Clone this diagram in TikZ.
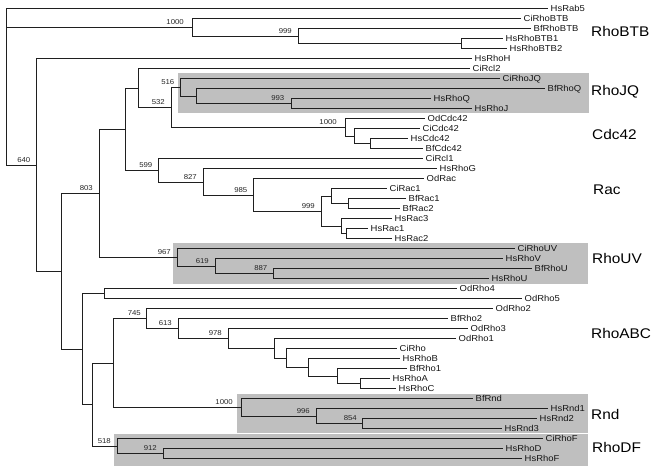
\documentclass[tikz,border=0pt]{standalone}
\usepackage{fontspec}
\setmainfont{Liberation Sans}[FakeStretch=1.1]
\usetikzlibrary{calc}
\begin{document}
\begin{tikzpicture}[x=1pt,y=-1pt,
  br/.style={draw=black!88, line width=1pt},
  leaf/.style={anchor=west, inner xsep=2.5pt, inner ysep=0pt, text height=6pt, text depth=0pt, font=\fontsize{8.6}{9}\selectfont, text=black!92},
  boot/.style={anchor=base east, inner sep=0pt, font=\fontsize{7.1}{8}\selectfont, text=black!85},
  grp/.style={anchor=west, inner sep=0pt, text height=10pt, text depth=0pt, font=\fontsize{14}{16}\selectfont, text=black},
  clade/.style={fill=black!25}]
\useasboundingbox (0,0) rectangle (657,473);
% clade boxes
\fill[clade] (178,73) rectangle (589,113);
\fill[clade] (173,243) rectangle (588,284);
\fill[clade] (237,394) rectangle (588,433);
\fill[clade] (114,434.5) rectangle (588,466);
% leaves
\node[leaf] (HsRab5) at (548,9) {HsRab5};
\node[leaf] (CiRhoBTB) at (521,19) {CiRhoBTB};
\node[leaf] (BfRhoBTB) at (531,29) {BfRhoBTB};
\node[leaf] (HsRhoBTB1) at (503,39) {HsRhoBTB1};
\node[leaf] (HsRhoBTB2) at (507,49) {HsRhoBTB2};
\node[leaf] (HsRhoH) at (472,59) {HsRhoH};
\node[leaf] (CiRcl2) at (470,69) {CiRcl2};
\node[leaf] (CiRhoJQ) at (500,79) {CiRhoJQ};
\node[leaf] (BfRhoQ) at (545,89) {BfRhoQ};
\node[leaf] (HsRhoQ) at (431,99) {HsRhoQ};
\node[leaf] (HsRhoJ) at (472,109) {HsRhoJ};
\node[leaf] (OdCdc42) at (425,119) {OdCdc42};
\node[leaf] (CiCdc42) at (420,129) {CiCdc42};
\node[leaf] (HsCdc42) at (408,139) {HsCdc42};
\node[leaf] (BfCdc42) at (423,149) {BfCdc42};
\node[leaf] (CiRcl1) at (423,159) {CiRcl1};
\node[leaf] (HsRhoG) at (437,169) {HsRhoG};
\node[leaf] (OdRac) at (424,179) {OdRac};
\node[leaf] (CiRac1) at (387,189) {CiRac1};
\node[leaf] (BfRac1) at (406,199) {BfRac1};
\node[leaf] (BfRac2) at (400,209) {BfRac2};
\node[leaf] (HsRac3) at (392,219) {HsRac3};
\node[leaf] (HsRac1) at (368,229) {HsRac1};
\node[leaf] (HsRac2) at (392,239) {HsRac2};
\node[leaf] (CiRhoUV) at (515,249) {CiRhoUV};
\node[leaf] (HsRhoV) at (503,259) {HsRhoV};
\node[leaf] (BfRhoU) at (532,269) {BfRhoU};
\node[leaf] (HsRhoU) at (489,279) {HsRhoU};
\node[leaf] (OdRho4) at (457,289) {OdRho4};
\node[leaf] (OdRho5) at (522,299) {OdRho5};
\node[leaf] (OdRho2) at (493,309) {OdRho2};
\node[leaf] (BfRho2) at (448,319) {BfRho2};
\node[leaf] (OdRho3) at (468,329) {OdRho3};
\node[leaf] (OdRho1) at (456,339) {OdRho1};
\node[leaf] (CiRho) at (397,349) {CiRho};
\node[leaf] (HsRhoB) at (400,359) {HsRhoB};
\node[leaf] (BfRho1) at (407,369) {BfRho1};
\node[leaf] (HsRhoA) at (390,379) {HsRhoA};
\node[leaf] (HsRhoC) at (396,389) {HsRhoC};
\node[leaf] (BfRnd) at (473,399) {BfRnd};
\node[leaf] (HsRnd1) at (548,409) {HsRnd1};
\node[leaf] (HsRnd2) at (537,419) {HsRnd2};
\node[leaf] (HsRnd3) at (502,429) {HsRnd3};
\node[leaf] (CiRhoF) at (543,439) {CiRhoF};
\node[leaf] (HsRhoD) at (503,449) {HsRhoD};
\node[leaf] (HsRhoF) at (522,459) {HsRhoF};
% internal nodes
\coordinate (nBTB12) at (461,44);
\coordinate (nB999) at (298,36.5);
\coordinate (nBTB) at (192,27.75);
\coordinate (nQJ) at (291,104);
\coordinate (nQ) at (196,96.5);
\coordinate (nJQ) at (180,87.75);
\coordinate (nC2) at (370,144);
\coordinate (nC1) at (354,136.5);
\coordinate (nCdc) at (345,127.75);
\coordinate (n532) at (171,107.75);
\coordinate (nB) at (138,88.4);
\coordinate (nR2) at (348,204);
\coordinate (nR1) at (331,196.5);
\coordinate (nR4) at (346,234);
\coordinate (nR3) at (341,226.5);
\coordinate (n999) at (321,211.5);
\coordinate (n985) at (253,195.25);
\coordinate (n827) at (203,182.1);
\coordinate (n599) at (158,170.6);
\coordinate (nC) at (125,129.5);
\coordinate (n887) at (273,274);
\coordinate (n619) at (215,266.5);
\coordinate (n967) at (177,257.75);
\coordinate (n803) at (99,193.6);
\coordinate (nV) at (360,384);
\coordinate (nW) at (337,376.5);
\coordinate (nZ) at (308,367.75);
\coordinate (nY) at (286,358.4);
\coordinate (nX) at (274,348.7);
\coordinate (n978) at (228.5,338.8);
\coordinate (n613) at (178,328.9);
\coordinate (n745) at (146,319);
\coordinate (n854) at (362,424);
\coordinate (n996) at (316,416.5);
\coordinate (nRnd) at (241,407.75);
\coordinate (nF) at (113,363.4);
\coordinate (n912) at (163,454);
\coordinate (n518) at (117,446.5);
\coordinate (nE) at (92,404.9);
\coordinate (n45) at (104,294);
\coordinate (nD) at (82,349.5);
\coordinate (nA) at (61,271.5);
\coordinate (n640) at (36,165.3);
\coordinate (root) at (6,87);
% branches
\draw[br] (root) |- (HsRab5.west) (root) |- (nBTB) (root) |- (n640);
\draw[br] (nBTB) |- (CiRhoBTB.west) (nBTB) |- (nB999);
\draw[br] (nB999) |- (BfRhoBTB.west) (nB999) |- (nBTB12);
\draw[br] (nBTB12) |- (HsRhoBTB1.west) (nBTB12) |- (HsRhoBTB2.west);
\draw[br] (n640) |- (HsRhoH.west) (n640) |- (nA);
\draw[br] (nA) |- (n803) (nA) |- (nD);
\draw[br] (n803) |- (nC) (n803) |- (n967);
\draw[br] (nC) |- (nB) (nC) |- (n599);
\draw[br] (nB) |- (CiRcl2.west) (nB) |- (n532);
\draw[br] (n532) |- (nJQ) (n532) |- (nCdc);
\draw[br] (nJQ) |- (CiRhoJQ.west) (nJQ) |- (nQ);
\draw[br] (nQ) |- (BfRhoQ.west) (nQ) |- (nQJ);
\draw[br] (nQJ) |- (HsRhoQ.west) (nQJ) |- (HsRhoJ.west);
\draw[br] (nCdc) |- (OdCdc42.west) (nCdc) |- (nC1);
\draw[br] (nC1) |- (CiCdc42.west) (nC1) |- (nC2);
\draw[br] (nC2) |- (HsCdc42.west) (nC2) |- (BfCdc42.west);
\draw[br] (n599) |- (CiRcl1.west) (n599) |- (n827);
\draw[br] (n827) |- (HsRhoG.west) (n827) |- (n985);
\draw[br] (n985) |- (OdRac.west) (n985) |- (n999);
\draw[br] (n999) |- (nR1) (n999) |- (nR3);
\draw[br] (nR1) |- (CiRac1.west) (nR1) |- (nR2);
\draw[br] (nR2) |- (BfRac1.west) (nR2) |- (BfRac2.west);
\draw[br] (nR3) |- (HsRac3.west) (nR3) |- (nR4);
\draw[br] (nR4) |- (HsRac1.west) (nR4) |- (HsRac2.west);
\draw[br] (n967) |- (CiRhoUV.west) (n967) |- (n619);
\draw[br] (n619) |- (HsRhoV.west) (n619) |- (n887);
\draw[br] (n887) |- (BfRhoU.west) (n887) |- (HsRhoU.west);
\draw[br] (nD) |- (n45) (nD) |- (nE);
\draw[br] (n45) |- (OdRho4.west) (n45) |- (OdRho5.west);
\draw[br] (nE) |- (nF) (nE) |- (n518);
\draw[br] (nF) |- (n745) (nF) |- (nRnd);
\draw[br] (n745) |- (OdRho2.west) (n745) |- (n613);
\draw[br] (n613) |- (BfRho2.west) (n613) |- (n978);
\draw[br] (n978) |- (OdRho3.west) (n978) |- (nX);
\draw[br] (nX) |- (OdRho1.west) (nX) |- (nY);
\draw[br] (nY) |- (CiRho.west) (nY) |- (nZ);
\draw[br] (nZ) |- (HsRhoB.west) (nZ) |- (nW);
\draw[br] (nW) |- (BfRho1.west) (nW) |- (nV);
\draw[br] (nV) |- (HsRhoA.west) (nV) |- (HsRhoC.west);
\draw[br] (nRnd) |- (BfRnd.west) (nRnd) |- (n996);
\draw[br] (n996) |- (HsRnd1.west) (n996) |- (n854);
\draw[br] (n854) |- (HsRnd2.west) (n854) |- (HsRnd3.west);
\draw[br] (n518) |- (CiRhoF.west) (n518) |- (n912);
\draw[br] (n912) |- (HsRhoD.west) (n912) |- (HsRhoF.west);
% bootstrap values
\node[boot] (bBTB) at ($(nBTB)+(-8,-3)$) {1000};
\node[boot] (bB999) at ($(nB999)+(-6,-3)$) {999};
\node[boot] (bJQ) at ($(nJQ)+(-5.5,-3)$) {516};
\node[boot] (b532) at ($(n532)+(-6,-3)$) {532};
\node[boot] (bQJ) at ($(nQJ)+(-6.5,-3)$) {993};
\node[boot] (bCdc) at ($(nCdc)+(-8,-3)$) {1000};
\node[boot] (b599) at ($(n599)+(-5.5,-3)$) {599};
\node[boot] (b827) at ($(n827)+(-6,-3)$) {827};
\node[boot] (b985) at ($(n985)+(-5.5,-3)$) {985};
\node[boot] (b999) at ($(n999)+(-6,-3)$) {999};
\node[boot] (b640) at ($(n640)+(-5.5,-3)$) {640};
\node[boot] (b803) at ($(n803)+(-6,-3)$) {803};
\node[boot] (b967) at ($(n967)+(-6,-3)$) {967};
\node[boot] (b619) at ($(n619)+(-6,-3)$) {619};
\node[boot] (b887) at ($(n887)+(-5.5,-3)$) {887};
\node[boot] (b745) at ($(n745)+(-5,-3)$) {745};
\node[boot] (b613) at ($(n613)+(-6,-3)$) {613};
\node[boot] (b978) at ($(n978)+(-6.5,-3)$) {978};
\node[boot] (bRnd) at ($(nRnd)+(-8,-3)$) {1000};
\node[boot] (b996) at ($(n996)+(-6,-3)$) {996};
\node[boot] (b854) at ($(n854)+(-5,-3)$) {854};
\node[boot] (b518) at ($(n518)+(-6,-3)$) {518};
\node[boot] (b912) at ($(n912)+(-6,-3)$) {912};
% group labels
\node[grp] (gBTB) at (591,32) {RhoBTB};
\node[grp] (gJQ) at (591,91) {RhoJQ};
\node[grp] (gCdc) at (592,135) {Cdc42};
\node[grp] (gRac) at (593,190) {Rac};
\node[grp] (gUV) at (592,259) {RhoUV};
\node[grp] (gABC) at (591,334) {RhoABC};
\node[grp] (gRnd) at (591,415) {Rnd};
\node[grp] (gDF) at (592,448) {RhoDF};
\end{tikzpicture}
\end{document}
